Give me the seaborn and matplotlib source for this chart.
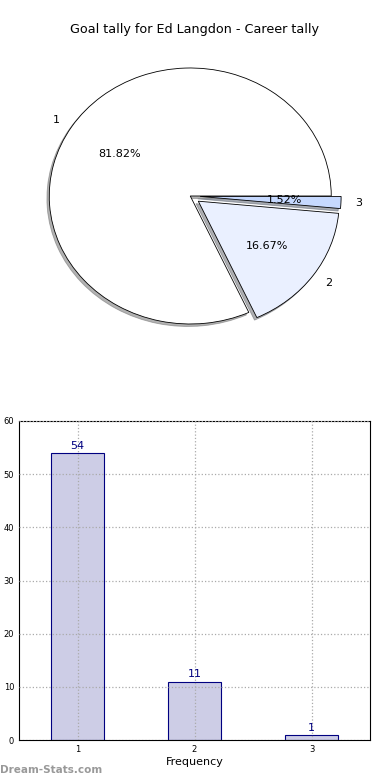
import matplotlib
matplotlib.use("Agg")
import matplotlib.pyplot as plt
import seaborn as sns
import pandas as pd

# data
goals = [1, 2, 3]
counts = [54, 11, 1]
pie_labels = ["1", "2", "3"]
pie_colors = ["#ffffff", "#eaf0ff", "#c6d9ff"]
title = "Goal tally for Ed Langdon - Career tally"

sns.set_style("white")
plt.rcParams["font.family"] = ["DejaVu Sans"]
plt.rcParams["text.color"] = "black"
plt.rcParams["xtick.color"] = "black"
plt.rcParams["ytick.color"] = "black"
plt.rcParams["axes.labelcolor"] = "black"

fig = plt.figure(figsize=(3.9, 7.8), dpi=100)
fig.text(0.5, 1 - 30 / 780, title, ha="center", va="center", fontsize=9.2)

# pie chart (stretched to an ellipse like the reference)
ax1 = fig.add_axes([14 / 390, 0.5436, 352.5 / 390, 320 / 780])
ax1.pie(counts, labels=pie_labels, colors=pie_colors, autopct="%.2f%%",
        explode=[0, 0.07, 0.07],
        shadow={"ox": -0.012, "oy": -0.014, "shade": 0.6}, startangle=0,
        wedgeprops={"edgecolor": "black", "linewidth": 0.6},
        textprops={"fontsize": 8})
ax1.set_aspect("auto")
ax1.set_xlim(-1.25, 1.25)
ax1.set_ylim(-1.25, 1.25)
ax1.axis("off")

# bar chart of frequencies
df = pd.DataFrame({"goals": goals, "count": counts})
ax2 = fig.add_axes([19 / 390, 40 / 780, 351 / 390, 319 / 780])
sns.barplot(data=df, x="goals", y="count", native_scale=True, width=0.45,
            color="#cdcde6", saturation=1, edgecolor="#000080", linewidth=0.8,
            ax=ax2, zorder=2)
for g, c in zip(goals, counts):
    ax2.text(g, c + 0.4, str(c), ha="center", va="bottom", color="#000080", fontsize=8)
ax2.set_xlim(0.5, 3.5)
ax2.set_ylim(0, 60)
ax2.set_xticks(goals)
ax2.set_yticks(range(0, 61, 10))
ax2.tick_params(labelsize=6, direction="in", length=3)
ax2.grid(True, linestyle=":", color="#aaaaaa", linewidth=0.9)
ax2.set_axisbelow(False)
for s in ax2.spines.values():
    s.set_color("black")
    s.set_linewidth(0.8)
ax2.set_xlabel("Frequency", fontsize=8, labelpad=2)
ax2.set_ylabel("")

fig.text(0.0, 1 - 770 / 780, "Dream-Stats.com", color="#999999", fontsize=7.5,
         fontweight="bold", ha="left", va="center")

fig.savefig("out.png", dpi=100)
